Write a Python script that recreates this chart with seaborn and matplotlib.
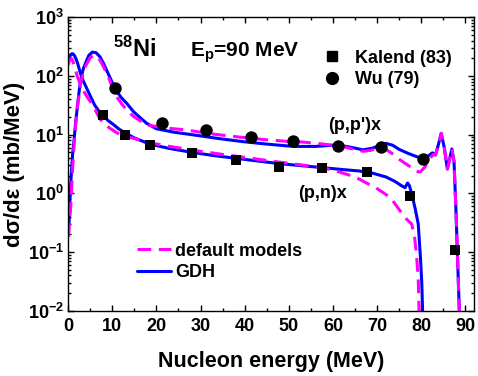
import math
import matplotlib
matplotlib.use("Agg")
import matplotlib.pyplot as plt
import seaborn as sns
from matplotlib.lines import Line2D
from matplotlib.ticker import FixedLocator, FuncFormatter, NullFormatter, LogLocator

# (p,n)x spectrum, GDH and default models
pn_e_gdh = [0.05, 0.3, 0.6, 0.9, 1.1, 1.4, 1.8, 2.2, 2.8, 3.5, 4.2, 5.0, 6.0, 7.0, 8.0, 9.0,
            10.2, 11.5, 13.0, 15.0, 18.5, 23, 28, 33, 38, 43, 48, 53, 57.5, 62, 66, 69, 72,
            74, 75.5, 76.3, 76.9, 77.3, 77.8, 78.6, 79.3, 79.8, 80.1, 80.4]
pn_gdh = [175, 210, 232, 240, 238, 225, 195, 160, 110, 80, 62, 46, 32, 25, 21, 17.5,
          15, 12.5, 10.6, 8.8, 6.9, 5.8, 5.0, 4.4, 3.95, 3.55, 3.2, 2.95, 2.75, 2.55, 2.4, 2.2, 1.9,
          1.6, 1.35, 1.25, 1.5, 1.35, 1.0, 0.55, 0.3, 0.08, 0.03, 0.005]
pn_e_def = [0.05, 0.3, 0.7, 1.0, 1.4, 2.1, 2.8, 3.6, 4.3, 5.1, 6.2, 7.2, 8.3, 9.5, 11.0, 13.3,
            16, 18.5, 23, 30, 35, 40, 46, 50, 55, 60, 65, 70, 73, 75.2, 76.7, 77.8, 78.4, 78.9,
            79.3, 79.6]
pn_def = [155, 185, 200, 185, 150, 97, 72, 54, 44, 36, 26, 18.5, 15, 12.8, 10.8, 9.3,
          8.2, 7.3, 6.3, 5.2, 4.6, 4.1, 3.55, 3.25, 2.9, 2.5, 1.9, 1.2, 0.85, 0.5, 0.36, 0.3, 0.2, 0.09,
          0.035, 0.005]

# (p,p')x spectrum
pp_e_gdh = [0.2, 0.43, 0.73, 1.0, 1.35, 1.7, 2.1, 2.5, 2.85, 3.4, 4.0, 4.7, 5.5, 6.3, 7.2, 8.0,
            8.7, 9.6, 10.6, 12.0, 13.3, 14.8, 16.3, 17.8, 20, 24, 28.4, 34, 39.6, 45, 51, 56, 60,
            62.5, 64.5, 66.8, 69, 71, 72, 73.5, 75, 77, 79, 80.4, 81.5, 82.5, 83.2, 83.8, 84.5,
            85.2, 85.9, 86.4, 86.9, 87.4, 87.8, 88.2, 88.7]
pp_gdh = [0.3, 0.88, 2.2, 4.5, 8.1, 16, 30, 55, 86, 130, 170, 225, 255, 250, 213, 165,
          126, 90, 61, 43, 34, 24.7, 19.5, 15.6, 12.6, 11, 9.9, 8.6, 7.6, 6.9, 6.3, 6.3, 6.6,
          6.4, 6.0, 5.5, 5.9, 6.8, 7.1, 6.6, 5.6, 4.8, 4.2, 3.9, 4.3, 4.9, 4.5, 6.5, 10.5,
          6.0, 2.6, 3.8, 5.7, 3.5, 0.63, 0.08, 0.006]
pp_e_def = [0.1, 0.35, 0.6, 0.95, 1.5, 2.1, 2.9, 3.5, 4.0, 5.0, 6.1, 7.2, 8.1, 9.1, 10.0, 11.0,
            12.2, 13.3, 14.8, 16.3, 18.0, 20, 23, 26.9, 32, 38.2, 44, 49.5, 53, 57, 61.6, 64,
            66.8, 68.5, 70.6, 72, 73.5, 75.2, 77.3, 78.8, 79.7, 80.8, 81.8, 82.7, 83.2, 83.8,
            84.5, 85.2, 85.9, 86.4, 86.9, 87.4, 87.8, 88.2, 88.7]
pp_def = [0.18, 0.35, 0.6, 2.2, 10, 30, 80, 115, 150, 205, 228, 187, 140, 97, 65, 44,
          33, 26, 20.5, 17.3, 14.6, 13.8, 12.8, 12.0, 10.4, 9.2, 8.3, 7.7, 7.5, 7.0, 6.4, 5.8,
          5.2, 5.4, 6.1, 5.6, 4.7, 3.7, 2.9, 2.4, 2.3, 2.8, 3.8, 4.6, 4.5, 6.5,
          10.5, 6.0, 2.6, 3.8, 5.7, 3.5, 0.63, 0.08, 0.006]

# experimental points
kal_e = [7.9, 12.9, 18.5, 28.1, 38.0, 47.8, 57.5, 67.7, 77.4, 87.6]
kal_v = [21.6, 9.9, 6.6, 4.9, 3.7, 2.8, 2.7, 2.3, 0.91, 0.11]
wu_e = [10.6, 21.3, 31.2, 41.4, 50.9, 61.1, 70.9, 80.4]
wu_v = [63, 15.8, 12, 9.2, 7.8, 6.4, 6.2, 3.9]

xticks = [0, 10, 20, 30, 40, 50, 60, 70, 80, 90]
yticks = [1e-2, 1e-1, 1e0, 1e1, 1e2, 1e3]

sns.set_style("ticks")
plt.rcParams["font.family"] = ["Liberation Sans", "DejaVu Sans"]
plt.rcParams["font.weight"] = "bold"
plt.rcParams["text.color"] = "black"
plt.rcParams["axes.labelcolor"] = "black"
plt.rcParams["mathtext.fontset"] = "custom"
plt.rcParams["mathtext.rm"] = "Liberation Sans:bold"
plt.rcParams["mathtext.bf"] = "Liberation Sans:bold"
plt.rcParams["mathtext.it"] = "Liberation Sans:bold"
plt.rcParams["mathtext.default"] = "bf"

BLUE = "#0000FF"
MAG = "#FF00FF"

fig = plt.figure(figsize=(4.78, 3.76), dpi=100)
ax = fig.add_axes([0.1425, 0.1737, 0.8498, 0.7803])
ax.set_yscale("log")

lw = 2.2
dash = (0, (4.5, 2.5))
sns.lineplot(x=pn_e_gdh, y=pn_gdh, color=BLUE, lw=lw, sort=False, estimator=None, ax=ax)
sns.lineplot(x=pp_e_gdh, y=pp_gdh, color=BLUE, lw=lw, sort=False, estimator=None, ax=ax)
sns.lineplot(x=pn_e_def, y=pn_def, color=MAG, lw=lw, ls=dash, sort=False, estimator=None, ax=ax)
sns.lineplot(x=pp_e_def, y=pp_def, color=MAG, lw=lw, ls=dash, sort=False, estimator=None, ax=ax)

sns.scatterplot(x=kal_e, y=kal_v, marker="s", s=62, color="black", edgecolor="black", linewidth=0, ax=ax, zorder=5)
sns.scatterplot(x=wu_e, y=wu_v, marker="o", s=80, color="black", edgecolor="black", linewidth=0, ax=ax, zorder=5)

ax.set_xlim(0, 92)
ax.set_ylim(1e-2, 1e3)
ax.xaxis.set_major_locator(FixedLocator(xticks))
ax.xaxis.set_minor_locator(FixedLocator([5, 15, 25, 35, 45, 55, 65, 75, 85]))
ax.yaxis.set_major_locator(FixedLocator(yticks))
ax.yaxis.set_minor_locator(LogLocator(base=10, subs=range(2, 10), numticks=20))
ax.yaxis.set_major_formatter(FuncFormatter(lambda v, p: r"$10^{%d}$" % round(math.log10(v))))
ax.yaxis.set_minor_formatter(NullFormatter())
ax.xaxis.set_major_formatter(FuncFormatter(lambda v, p: "%d" % v))

ax.tick_params(which="both", direction="in", top=True, right=True, width=1.0, colors="black")
ax.tick_params(which="major", length=4, labelsize=13, pad=3)
ax.tick_params(which="minor", length=2.2)
ax.tick_params(axis="x", which="major", pad=5)
for sp in ax.spines.values():
    sp.set_linewidth(1.0)
    sp.set_color("black")

ax.set_xlabel("Nucleon energy (MeV)", fontsize=15.5, fontweight="bold", labelpad=12)
ax.set_ylabel("dσ/dε (mb/MeV)", fontsize=16, fontweight="bold", labelpad=2)

ax.text(0.1105, 0.864, r"$^{58}$Ni", transform=ax.transAxes, fontsize=17, fontweight="bold", va="baseline")
ax.text(0.300, 0.866, r"E$_p$=90 MeV", transform=ax.transAxes, fontsize=15, fontweight="bold", va="baseline")
ax.text(0.640, 0.616, "(p,p')x", transform=ax.transAxes, fontsize=13, fontweight="bold", va="baseline")
ax.text(0.567, 0.384, "(p,n)x", transform=ax.transAxes, fontsize=13, fontweight="bold", va="baseline")

h_exp = [Line2D([], [], ls="none", marker="s", ms=7.5, color="black"),
         Line2D([], [], ls="none", marker="o", ms=8.5, color="black")]
leg1 = ax.legend(h_exp, ["Kalend (83)", "Wu (79)"], loc="upper left", bbox_to_anchor=(0.6275, 0.89),
                 frameon=False, fontsize=13, handlelength=1.0, handletextpad=0.75, labelspacing=0.25,
                 borderpad=0, borderaxespad=0)
ax.add_artist(leg1)
h_mod = [Line2D([], [], color=MAG, lw=lw, ls=dash),
         Line2D([], [], color=BLUE, lw=lw)]
ax.legend(h_mod, ["default models", "GDH"], loc="upper left", bbox_to_anchor=(0.1696, 0.232),
          frameon=False, fontsize=13, handlelength=1.9, handletextpad=0.2, labelspacing=0.25,
          borderpad=0, borderaxespad=0)

fig.savefig("out.png", dpi=100)
